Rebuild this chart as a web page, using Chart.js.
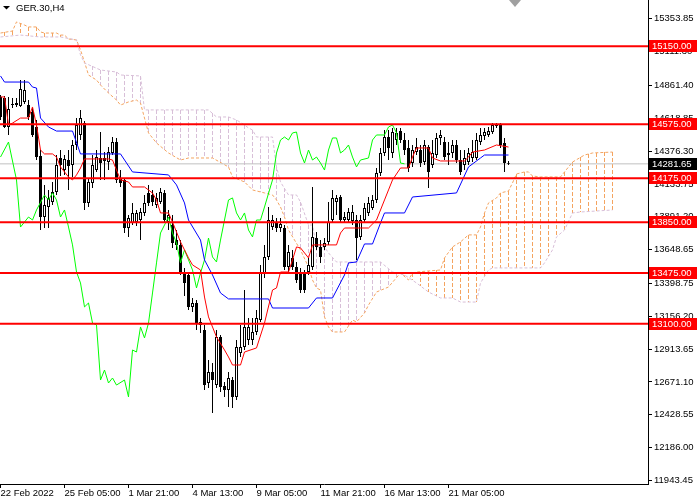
<!DOCTYPE html>
<html>
<head>
<meta charset="utf-8">
<script src="https://cdn.jsdelivr.net/npm/chart.js@4.4.1/dist/chart.umd.min.js"></script>
<style>
  html, body { margin: 0; padding: 0; background: #fff; }
  #chart { display: block; }
</style>
</head>
<body>
<canvas id="chart" width="700" height="500"></canvas>
<script>
// GER.30 H4, bar 0 = 22 Feb 2022, one bar every 4 hours
var opens = [14776,14768,14554,14716,14716,14709,14739,14716,14665,14554,
  14340,13889,13963,14000,14074,14325,14236,14310,14273,14421,
  14495,14583,13993,14141,14236,14325,14325,14295,14362,14443,
  14177,14163,13808,13845,13852,13867,13919,14067,14052,13978,
  14000,14067,13852,13830,13719,13683,13483,13461,13225,13254,
  13114,13055,12663,12744,12648,13003,12641,12611,12685,12560,
  12885,12929,12981,12981,13040,13128,13476,13594,13815,13852,
  13808,13808,13520,13587,13520,13483,13476,13483,13520,13734,
  13668,13668,13705,13867,14000,14037,13867,13867,13860,13867,
  13742,13867,13919,13956,14015,14214,14362,14480,14362,14458,
  14524,14458,14399,14288,14369,14384,14295,14406,14273,14347,
  14473,14443,14347,14362,14421,14310,14273,14295,14325,14325,
  14443,14487,14495,14517,14561,14569,14436,14288];
var highs = [14790,14783,14776,14768,14768,14901,14901,14753,14694,14606,
  14384,14126,14089,14148,14347,14384,14347,14384,14458,14620,
  14680,14598,14177,14347,14384,14517,14369,14406,14480,14473,
  14236,14177,13904,13993,13941,13956,14052,14126,14089,14067,
  14104,14089,13941,13904,13793,13719,13513,13483,13291,13276,
  13143,13092,12833,12811,13055,13018,12671,12744,12707,12981,
  13092,13350,13143,13143,13202,13535,13683,13963,13904,13882,
  13882,13830,13683,13646,13557,13513,13498,13587,14111,13778,
  13719,13734,14000,14089,14052,14052,13926,13956,13978,13904,
  13904,13993,14037,14052,14251,14399,14532,14532,14547,14547,
  14547,14510,14458,14421,14473,14421,14458,14421,14458,14510,
  14532,14480,14443,14458,14458,14384,14384,14399,14458,14510,
  14547,14547,14554,14583,14583,14583,14473,14303];
var lows = [14606,14547,14495,14694,14702,14702,14724,14606,14480,14310,
  13793,13808,13808,13978,14052,14192,14200,14089,14185,14384,
  14458,13941,13963,14104,14222,14163,14163,14236,14347,14141,
  14111,13771,13742,13830,13823,13719,13897,13971,13971,13956,
  13985,13845,13793,13661,13646,13461,13306,13202,13188,13055,
  13033,12611,12626,12442,12626,12597,12560,12486,12478,12538,
  12855,12907,12944,12944,13018,13114,13439,13572,13793,13778,
  13778,13498,13483,13498,13402,13328,13328,13461,13498,13646,
  13550,13646,13683,13845,13904,13845,13845,13852,13830,13572,
  13719,13845,13897,13941,13993,14192,14340,14310,14325,14421,
  14436,14347,14222,14259,14347,14259,14273,14104,14251,14325,
  14421,14310,14273,14325,14288,14200,14236,14273,14295,14310,
  14421,14458,14480,14502,14547,14399,14222,14273];
var closes = [14628,14554,14687,14724,14731,14835,14827,14628,14495,14332,
  13889,13978,14030,14074,14273,14273,14318,14266,14421,14569,
  14620,13993,14148,14273,14332,14288,14303,14369,14443,14163,
  14141,13808,13882,13919,13919,13926,13993,13993,14000,14030,
  14074,13867,13904,13697,13683,13483,13402,13225,13254,13106,
  13092,12648,12744,12685,13003,12633,12611,12700,12560,12929,
  12929,13077,13077,13040,13143,13476,13594,13867,13867,13808,
  13837,13520,13631,13520,13424,13350,13350,13535,13742,13668,
  13594,13697,13852,14030,14030,13867,13889,13926,13926,13734,
  13867,13956,13993,14015,14214,14362,14480,14399,14517,14510,
  14458,14384,14251,14384,14406,14288,14421,14222,14362,14473,
  14495,14332,14362,14421,14310,14222,14325,14362,14369,14458,
  14495,14517,14524,14569,14576,14421,14288,14282];

// Ichimoku lines, read as corner points (bar, price)
var tenkanBars = [0,1,2,3,5,7,8,9,10,11,13,14,15,17,18,19,20,21,27,28,29,30,32,33,36,38,39,40,42,43,
  45,46,47,48,50,51,52,54,56,57,58,60,61,64,66,68,69,70,72,73,74,75,77,78,84,85,86,92,94,96,
  97,98,100,102,103,104,107,108,110,116,117,118,121,124,127];
var tenkanVals = [14776,14776,14569,14583,14620,14620,14702,14569,14384,14355,14355,14332,14259,14185,14163,14200,14251,14318,14318,14310,
  14236,14163,14148,14111,14111,14066,14015,13919,13919,13852,13705,13646,13587,13535,13498,13298,13151,13003,12907,12855,
  12796,12796,12892,12922,13106,13350,13365,13483,13483,13572,13668,13661,13587,13683,13683,13771,13808,13808,13867,14015,
  14089,14163,14251,14251,14332,14399,14399,14325,14303,14303,14332,14369,14384,14421,14406];

var kijunBars = [0,1,7,8,9,10,12,14,18,20,30,33,42,44,46,47,50,51,53,55,
  57,67,68,77,79,83,86,87,89,91,93,95,96,101,103,114,117,120,121,127];
var kijunVals = [14931,14886,14886,14849,14842,14620,14554,14524,14524,14355,14355,14222,14200,14126,13993,13867,13719,13572,13461,13328,
  13284,13284,13217,13217,13291,13291,13461,13550,13557,13690,13690,13845,13919,13919,14037,14067,14259,14325,14347,14347];

var chikouBars = [0,2,4,5,6,7,8,9,11,12,13,14,15,16,17,18,19,20,21,22,
  23,24,25,26,27,28,29,31,32,33,34,35,36,37,38,39,40,42,43,44,
  45,46,47,48,49,50,51,52,53,54,55,57,58,59,60,61,62,63,64,65,
  66,68,69,70,71,72,73,74,75,76,77,78,79,80,81,82,83,84,85,86,
  87,88,89,90,92,93,94,96,97,98,99,100,101];
var chikouVals = [14332,14443,14163,13815,13852,13889,13867,13941,14052,14015,
  14067,14015,13889,13941,13815,13683,13483,13402,13225,13254,
  13106,13092,12685,12759,12663,12700,12648,12685,12560,12907,
  12892,13077,12996,13106,13328,13550,13771,13889,13771,13697,
  13550,13646,13572,13498,13365,13476,13572,13734,13594,13557,
  13719,14015,14030,13919,13867,13919,13793,13742,13867,13867,
  13963,14163,14362,14458,14480,14458,14510,14517,14362,14288,
  14384,14310,14332,14288,14236,14384,14473,14473,14362,14384,
  14421,14332,14259,14310,14325,14458,14495,14495,14554,14569,
  14510,14288,14282];

var spanABars = [0,3,4,6,7,9,10,11,14,15,16,17,19,20,21,22,24,25,27,29,
  30,32,34,35,36,37,39,42,45,47,53,57,58,61,63,66,68,69,70,71,
  72,75,77,78,79,80,81,82,83,86,88,89,91,92,94,97,100,102,103,104,
  110,111,113,115,117,119,120,121,122,124,125,127,128,129,131,132,133,135,140,141,
  143,146,148,153];
var spanAVals = [15248,15263,15330,15307,15293,15293,15256,15248,15248,15233,15233,15204,15197,15123,15034,14938,14901,14864,14805,14753,
  14716,14739,14753,14731,14620,14510,14436,14362,14310,14325,14325,14259,14185,14148,14089,14067,14052,14015,13963,13889,
  13793,13646,13520,13424,13365,13350,13151,13077,13040,13040,13128,13114,13180,13239,13335,13372,13476,13424,13476,13483,
  13498,13587,13668,13705,13757,13757,13815,13919,13993,14030,14067,14081,14141,14207,14222,14222,14192,14185,14185,14222,
  14295,14347,14362,14369];

var spanBBars = [0,5,10,15,19,20,21,25,29,30,35,36,52,54,57,59,61,62,63,64,
  68,69,70,72,74,75,77,78,79,81,82,84,95,98,101,104,107,110,113,115,
  119,120,122,123,135,136,138,139,141,143,145,153];
var spanBVals = [15219,15233,15219,15219,15197,15086,15027,14975,14960,14938,14931,14680,14680,14628,14628,14606,14569,14547,14532,14480,
  14480,14259,14148,14052,14052,14000,13830,13830,13668,13668,13624,13557,13557,13483,13461,13402,13335,13291,13291,13261,
  13261,13402,13498,13513,13513,13550,13646,13742,13793,13919,13926,13941];

var levels = [15150, 14575, 14175, 13850, 13475, 13100];
var lastPrice = 14281.65;
var yTicks = [15353.85, 15111.30, 14861.40, 14618.85, 14376.30, 14133.75, 13891.20, 13648.65,
  13398.75, 13156.20, 12913.65, 12671.10, 12428.55, 12186.00, 11943.45];
var xTickBars = [0, 16, 32, 48, 64, 80, 96, 112];
var xTickLabels = ['22 Feb 2022', '25 Feb 05:00', '1 Mar 21:00', '4 Mar 13:00',
  '9 Mar 05:00', '11 Mar 21:00', '16 Mar 13:00', '21 Mar 05:00'];
var symbol = 'GER.30,H4';

var FONT = '"Liberation Sans", Arial, sans-serif';
var UP_CLOUD = '#f4a460';
var DOWN_CLOUD = '#d8bfd8';

function points(bars, vals) {
  return bars.map(function (b, k) { return {x: b, y: vals[k]}; });
}

var wicks = [], bodies = [];
for (var i = 0; i < opens.length; i++) {
  wicks.push({x: i, y: [lows[i], highs[i]]});
  bodies.push({x: i, y: [opens[i], closes[i]]});
}

var datasets = [
  {
    type: 'line', label: 'Senkou A', data: points(spanABars, spanAVals),
    borderColor: UP_CLOUD, borderWidth: 1, borderDash: [3, 2], fill: false,
    order: 11
  },
  {
    type: 'line', label: 'Senkou B', data: points(spanBBars, spanBVals),
    borderColor: DOWN_CLOUD, borderWidth: 1, borderDash: [3, 2], fill: false,
    order: 10
  },
  {
    type: 'line', label: 'price', data: [{x: -1, y: lastPrice}, {x: 170, y: lastPrice}],
    borderColor: '#c0c0c0', borderWidth: 1, fill: false, order: 9
  },
  {
    type: 'bar', label: 'wicks', data: wicks, backgroundColor: '#000',
    barThickness: 1, borderWidth: 0, order: 8
  },
  {
    type: 'bar', label: 'bodies', data: bodies, barThickness: 3,
    borderWidth: 1, borderColor: '#000', borderSkipped: false,
    backgroundColor: function (c) {
      var k = c.dataIndex;
      return closes[k] >= opens[k] ? '#fff' : '#000';
    },
    order: 7
  },
  {
    type: 'line', label: 'Chikou', data: points(chikouBars, chikouVals),
    borderColor: '#00ff00', borderWidth: 1, fill: false, order: 6
  },
  {
    type: 'line', label: 'Kijun', data: points(kijunBars, kijunVals),
    borderColor: '#0000ff', borderWidth: 1, fill: false, order: 5
  },
  {
    type: 'line', label: 'Tenkan', data: points(tenkanBars, tenkanVals),
    borderColor: '#ff0000', borderWidth: 1, fill: false, order: 4
  }
];

levels.forEach(function (v) {
  datasets.push({
    type: 'line', label: String(v), data: [{x: -1, y: v}, {x: 170, y: v}],
    borderColor: '#ff0000', borderWidth: 2, fill: false, order: 1
  });
});

// cloud hatching: dotted vertical strokes between the two span lines,
// positions taken from the line elements Chart.js built
var cloudHatch = {
  id: 'cloudHatch',
  beforeDatasetsDraw: function (chart) {
    var lineA = chart.getDatasetMeta(0).dataset;
    var lineB = chart.getDatasetMeta(1).dataset;
    var xs = chart.scales.x;
    var area = chart.chartArea;
    var c = chart.ctx;
    c.save();
    c.beginPath();
    c.rect(area.left, area.top, area.right - area.left, area.bottom - area.top);
    c.clip();
    c.lineWidth = 1;
    c.setLineDash([4, 2]);
    for (var b = 1; b <= 153; b += 2) {
      var px = xs.getPixelForValue(b);
      var pa = lineA.interpolate({x: px}, 'x');
      var pb = lineB.interpolate({x: px}, 'x');
      if (!pa || !pb) continue;
      var top = Math.min(pa.y, pb.y), bottom = Math.max(pa.y, pb.y);
      if (bottom - top < 1) continue;
      c.strokeStyle = pa.y <= pb.y ? UP_CLOUD : DOWN_CLOUD;
      c.beginPath();
      c.moveTo(px, Math.round(top));
      c.lineTo(px, Math.round(bottom));
      c.stroke();
    }
    c.restore();
  }
};

var overlay = {
  id: 'overlay',
  afterDraw: function (chart) {
    var c = chart.ctx;
    var ys = chart.scales.y;
    c.save();
    c.font = '9.5px ' + FONT;
    c.textBaseline = 'middle';
    c.textAlign = 'left';
    levels.forEach(function (v) {
      var y = Math.round(ys.getPixelForValue(v));
      c.fillStyle = '#ff0000';
      c.fillRect(649, y - 6, 48, 12);
      c.fillStyle = '#fff';
      c.fillText(v.toFixed(2), 652, y + 0.5);
    });
    var py = Math.round(ys.getPixelForValue(lastPrice));
    c.fillStyle = '#000';
    c.fillRect(649, py - 6, 48, 12);
    c.fillStyle = '#fff';
    c.fillText(lastPrice.toFixed(2), 652, py + 0.5);

    // symbol caption
    c.fillStyle = '#000';
    c.beginPath();
    c.moveTo(3, 6); c.lineTo(10, 6); c.lineTo(6.5, 9.5);
    c.closePath(); c.fill();
    c.font = '9.5px ' + FONT;
    c.fillText(symbol, 16, 8);

    // chart shift marker
    c.fillStyle = '#a0a0a0';
    c.beginPath();
    c.moveTo(509, 0); c.lineTo(521, 0); c.lineTo(515, 7);
    c.closePath(); c.fill();
    c.restore();
  }
};

new Chart(document.getElementById('chart'), {
  type: 'bar',
  data: {datasets: datasets},
  plugins: [cloudHatch, overlay],
  options: {
    responsive: false,
    animation: false,
    devicePixelRatio: 1,
    events: [],
    layout: {padding: 0},
    datasets: {
      bar: {grouped: false, inflateAmount: 0},
      line: {pointRadius: 0, tension: 0}
    },
    plugins: {
      legend: {display: false},
      tooltip: {enabled: false},
      title: {display: false}
    },
    scales: {
      x: {
        type: 'linear', min: -0.125, max: 161.875, offset: false,
        grid: {offset: false, drawOnChartArea: false, drawTicks: true, tickLength: 4, color: '#000'},
        border: {display: true, color: '#000', width: 1},
        ticks: {
          autoSkip: false, maxRotation: 0, align: 'start', padding: 0,
          color: '#000', font: {family: FONT, size: 9.5},
          callback: function (v) {
            var k = xTickBars.indexOf(v);
            return k < 0 ? '' : xTickLabels[k];
          }
        },
        afterBuildTicks: function (s) {
          s.ticks = xTickBars.map(function (b) { return {value: b}; });
        },
        afterFit: function (s) {
          s.height = 16;
          s.paddingLeft = 0; s.paddingRight = 0;
        }
      },
      y: {
        type: 'linear', position: 'right', min: 11917, max: 15492,
        grid: {drawOnChartArea: false, drawTicks: true, tickLength: 4, color: '#000'},
        border: {display: true, color: '#000', width: 1},
        ticks: {
          padding: 2, color: '#000', font: {family: FONT, size: 9.5},
          callback: function (v) { return Number(v).toFixed(2); }
        },
        afterBuildTicks: function (s) {
          s.ticks = yTicks.map(function (v) { return {value: v}; });
        },
        afterFit: function (s) {
          s.width = 52;
          s.paddingTop = 0; s.paddingBottom = 0;
        }
      }
    }
  }
});
</script>
</body>
</html>
